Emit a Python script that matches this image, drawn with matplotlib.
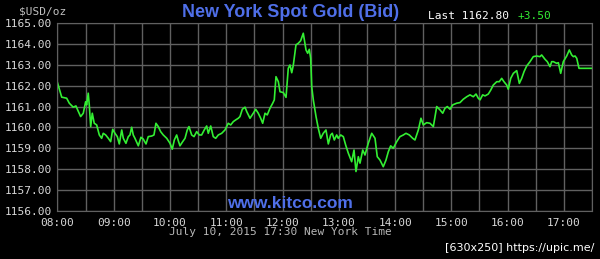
import matplotlib
matplotlib.use("Agg")
import matplotlib.pyplot as plt
import numpy as np

# minutes after 08:00, New York spot gold bid (USD/oz)
minutes = [0, 4.5, 9.8, 12.6, 16.8, 19.7, 21.5, 24.7, 27.5, 30, 31.1, 32.8, 33.9, 35.4, 37.1,
           39.2, 41.8, 44.6, 47.1, 48.8, 51.4, 54.2, 56.7, 58.9, 61.3, 63.8, 65.9, 68.5, 70.2,
           73.0, 75.5, 77.3, 79.1, 80.8, 82.6, 86.2, 89.0, 91.5, 94.4, 96.8, 100.5, 102.9, 105.0,
           107.5, 110, 112.8, 116.5, 120, 122.4, 124.6, 127.1, 128.8, 130.6, 133.5, 136, 138.4,
           140.2, 143.1, 145.6, 148.4, 151.2, 153.7, 156.5, 159.1, 160.8, 163.4, 164.4, 166.1,
           168.7, 171.5, 175.1, 178.6, 180.4, 182.1, 184.7, 187.5, 190.0, 192.8, 194.6, 197.1,
           200, 201.8, 205.3, 208.8, 211.4, 214.1, 216.7, 218.8, 221.3, 223.7, 226.6, 229.5,
           231.2, 233.0, 235.5, 237.3, 240.8, 243.7, 246.1, 247.9, 249.8, 251.5, 254.3, 256.8,
           259.3, 262.1, 265.0, 266.8, 268.5, 270.0, 271.1, 272.8, 275.7, 278.1, 280.7, 283.4,
           286.3, 288.8, 291.3, 293.0, 295.2, 297.7, 299.4, 302.0, 304.8, 307.3, 310.1, 313.7,
           316.2, 318.3, 320.8, 322.6, 325.5, 327.9, 331.4, 335.1, 338.6, 341.0, 343.9, 347.4,
           350.3, 352.8, 355.3, 358.1, 361.7, 365.2, 368.8, 371.6, 375.2, 378.8, 381.2, 384.8,
           387.6, 390.1, 393.7, 397.2, 400.8, 404.4, 407.9, 410.8, 413.2, 415.7, 418.6, 421.4,
           425.7, 429.2, 432.7, 436.4, 439.9, 443.4, 446.3, 448.7, 450.6, 453.4, 455.9, 459.4,
           462.0, 464.7, 468.4, 471.1, 473.7, 476.1, 479.0, 480.7, 483.3, 486.1, 489.7, 491.4,
           492.5, 495.0, 497.5, 500.3, 503.9, 507.4, 511.0, 514.5, 516.3, 519.9, 522.3, 525.2,
           527.0, 528.7, 532.3, 534.1, 536.6, 539.4, 543.0, 545.8, 548.3, 550.1, 551.9, 553.7,
           556.1, 560.7, 569.7]
price = [1162.14, 1161.45, 1161.40, 1161.16, 1160.97, 1161.03, 1160.84, 1160.52, 1160.68, 1161.23,
         1161.08, 1161.64, 1161.08, 1160.04, 1160.68, 1160.20, 1160.12, 1159.64, 1159.48, 1159.72,
         1159.64, 1159.48, 1159.32, 1159.91, 1159.72, 1159.56, 1159.21, 1159.88, 1159.48, 1159.24,
         1159.56, 1159.64, 1160.01, 1159.64, 1159.48, 1159.12, 1159.53, 1159.44, 1159.21, 1159.56,
         1159.59, 1159.64, 1160.20, 1160.04, 1159.80, 1159.64, 1159.48, 1159.24, 1158.96, 1159.40,
         1159.64, 1159.37, 1159.12, 1159.32, 1159.48, 1159.88, 1160.04, 1159.64, 1159.56, 1159.80,
         1159.64, 1159.64, 1159.88, 1160.07, 1159.72, 1160.07, 1159.88, 1159.56, 1159.48, 1159.64,
         1159.72, 1159.88, 1160.04, 1160.20, 1160.12, 1160.28, 1160.36, 1160.44, 1160.52, 1160.87,
         1160.97, 1160.76, 1160.44, 1160.68, 1160.87, 1160.68, 1160.44, 1160.20, 1160.68, 1160.60,
         1160.92, 1161.16, 1161.32, 1162.43, 1162.19, 1161.71, 1161.67, 1161.44, 1162.83, 1162.99,
         1162.62, 1162.99, 1163.95, 1164.03, 1164.15, 1164.51, 1163.71, 1163.55, 1163.74, 1163.31,
         1161.95, 1161.32, 1160.52, 1159.96, 1159.48, 1159.72, 1159.88, 1159.21, 1159.64, 1159.72,
         1159.40, 1159.64, 1159.48, 1159.64, 1159.56, 1159.16, 1158.77, 1158.36, 1158.92, 1157.89,
         1158.60, 1158.29, 1158.92, 1158.68, 1159.24, 1159.72, 1159.48, 1158.60, 1158.44, 1158.12,
         1158.44, 1158.84, 1159.12, 1159.00, 1159.32, 1159.56, 1159.64, 1159.72, 1159.64, 1159.48,
         1159.40, 1159.88, 1160.44, 1160.12, 1160.23, 1160.20, 1160.04, 1161.00, 1160.84, 1160.68,
         1160.92, 1161.00, 1160.87, 1161.08, 1161.16, 1161.19, 1161.35, 1161.47, 1161.56, 1161.47,
         1161.60, 1161.40, 1161.32, 1161.56, 1161.51, 1161.60, 1161.79, 1162.03, 1162.19, 1162.19,
         1162.35, 1162.19, 1162.03, 1161.83, 1162.35, 1162.59, 1162.72, 1162.35, 1162.11, 1162.35,
         1162.67, 1162.94, 1163.15, 1163.39, 1163.42, 1163.39, 1163.47, 1163.26, 1163.15, 1162.91,
         1163.15, 1163.15, 1163.07, 1163.10, 1162.59, 1163.15, 1163.42, 1163.71, 1163.47, 1163.39,
         1163.42, 1163.31, 1162.83, 1162.83, 1162.83]

hour_labels = ["08:00", "09:00", "10:00", "11:00", "12:00", "13:00",
               "14:00", "15:00", "16:00", "17:00"]
y_ticks = [1156, 1157, 1158, 1159, 1160, 1161, 1162, 1163, 1164, 1165]

mono = "DejaVu Sans Mono"
txt = "#d8d8d8"
blue = "#4f6fe8"

fig = plt.figure(figsize=(6, 2.59), dpi=100, facecolor="black")
ax = fig.add_axes([0.0958, 0.1853, 0.8909, 0.7259], facecolor="black")

ax.plot(minutes, price, color="#33ee33", lw=1.2)

ax.set_xlim(0, 570)
ax.set_ylim(1156, 1165)
ax.set_xticks(np.arange(0, 541, 60))
ax.set_xticks(np.arange(30, 571, 60), minor=True)
ax.set_xticklabels(hour_labels, family=mono, fontsize=8, color=txt)
ax.set_yticks(y_ticks)
ax.set_yticklabels(["%.2f" % v for v in y_ticks], family=mono, fontsize=8, color=txt)
ax.tick_params(which="both", length=0)
ax.tick_params(axis="y", pad=4)
ax.tick_params(axis="x", pad=5)
ax.grid(True, which="both", color="#606060", lw=1)
ax.set_axisbelow(True)
for s in ax.spines.values():
    s.set_color("#606060")

fig.text(0.032, 0.957, "$USD/oz", family=mono, fontsize=8, color="#c0c0c0", va="center")
fig.text(0.485, 0.953, "New York Spot Gold (Bid)", family="Liberation Sans",
         fontweight="bold", fontsize=13, color=blue, ha="center", va="center")
fig.text(0.713, 0.938, "Last 1162.80", family=mono, fontsize=8, color="white", va="center")
fig.text(0.862, 0.938, "+3.50", family=mono, fontsize=8, color="#33ee33", va="center")
fig.text(0.468, 0.104, "July 10, 2015 17:30 New York Time", family=mono, fontsize=8,
         color="#b8b8b8", ha="center", va="center")
fig.text(0.483, 0.215, "www.kitco.com", family="Liberation Sans", fontweight="bold",
         fontsize=12.5, color=blue, ha="center", va="center")
fig.text(0.99, 0.042, "[630x250] https://upic.me/", fontsize=8, color="white",
         ha="right", va="center")

fig.savefig("out.png", dpi=100, facecolor="black")
